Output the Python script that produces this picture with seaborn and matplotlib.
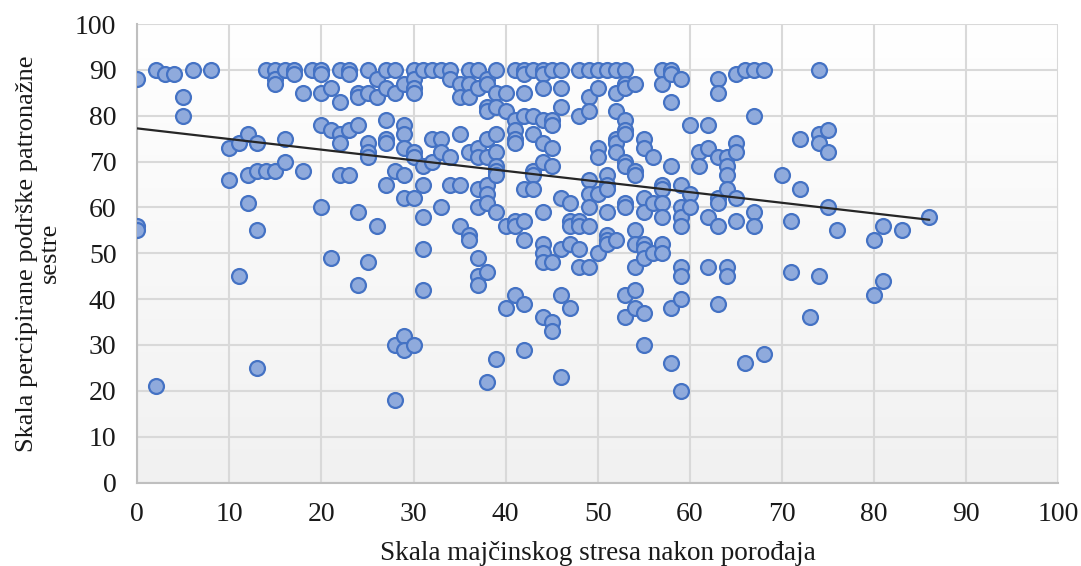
import numpy as np
import pandas as pd
import matplotlib
matplotlib.use("Agg")
import matplotlib.pyplot as plt
import seaborn as sns
from matplotlib.colors import LinearSegmentedColormap

# ---- data: x value -> list of y values ----
stress_to_support = {
    0: [88, 56, 55],
    2: [90, 21],
    3: [89],
    4: [89],
    5: [84, 80],
    6: [90],
    8: [90],
    10: [73, 66],
    11: [74, 45],
    12: [76, 67, 61],
    13: [74, 68, 55, 25],
    14: [90, 68],
    15: [90, 88, 87, 68],
    16: [90, 75, 70],
    17: [90, 89],
    18: [85, 68],
    19: [90],
    20: [90, 89, 85, 78, 60],
    21: [86, 77, 49],
    22: [90, 83, 76, 74, 67],
    23: [90, 89, 77, 67],
    24: [85, 84, 78, 59, 43],
    25: [90, 85, 74, 72, 71, 48],
    26: [88, 84, 56],
    27: [90, 86, 79, 75, 74, 65],
    28: [90, 85, 68, 30, 18],
    29: [87, 78, 76, 73, 67, 62, 32, 29],
    30: [90, 88, 86, 85, 72, 71, 62, 30],
    31: [90, 69, 65, 58, 51, 42],
    32: [90, 75, 70],
    33: [90, 75, 72, 60],
    34: [90, 88, 71, 65],
    35: [87, 84, 76, 65, 56],
    36: [90, 87, 84, 72, 54, 53],
    37: [90, 86, 73, 71, 64, 60, 49, 45, 43],
    38: [88, 87, 82, 81, 75, 71, 65, 63, 61, 46, 22],
    39: [90, 85, 82, 76, 72, 69, 68, 67, 59, 27],
    40: [85, 81, 56, 38],
    41: [90, 79, 77, 75, 74, 57, 56, 41],
    42: [90, 89, 85, 80, 64, 57, 53, 39, 29],
    43: [90, 80, 76, 68, 67, 64],
    44: [90, 89, 86, 79, 74, 70, 59, 52, 50, 48, 36],
    45: [90, 79, 78, 73, 69, 48, 35, 33],
    46: [90, 86, 82, 62, 51, 41, 23],
    47: [61, 57, 56, 52, 38],
    48: [90, 80, 57, 56, 51, 47],
    49: [90, 84, 81, 66, 63, 60, 56, 47],
    50: [90, 86, 73, 71, 63, 50],
    51: [90, 67, 65, 64, 59, 54, 53, 52],
    52: [90, 85, 81, 75, 74, 72, 53],
    53: [90, 87, 86, 79, 77, 76, 70, 69, 61, 60, 41, 36],
    54: [87, 68, 67, 55, 52, 47, 42, 38],
    55: [75, 73, 62, 59, 52, 51, 49, 37, 30],
    56: [71, 61, 50],
    57: [90, 87, 65, 64, 61, 58, 52, 50],
    58: [90, 89, 83, 69, 38, 26],
    59: [88, 65, 60, 58, 56, 47, 45, 40, 20],
    60: [78, 63, 60],
    61: [72, 69],
    62: [78, 73, 58, 47],
    63: [88, 85, 71, 62, 61, 56, 39],
    64: [71, 69, 67, 64, 47, 45],
    65: [89, 74, 72, 62, 57],
    66: [90, 26],
    67: [90, 80, 59, 56],
    68: [90, 28],
    70: [67],
    71: [57, 46],
    72: [75, 64],
    73: [36],
    74: [90, 76, 74, 45],
    75: [77, 72, 60],
    76: [55],
    80: [53, 41],
    81: [56, 44],
    83: [55],
    86: [58],
}

stress = [x for x, ys in stress_to_support.items() for _ in ys]
support = [y for ys in stress_to_support.values() for y in ys]

x_ticks = list(range(0, 101, 10))
y_ticks = list(range(0, 101, 10))
x_label = "Skala majčinskog stresa nakon porođaja"
y_label = "Skala percipirane podrške patronažne\nsestre"

df = pd.DataFrame({"stress": stress, "support": support})

sns.set_theme(style="white")
plt.rcParams["font.family"] = ["Liberation Serif", "DejaVu Serif"]

fig = plt.figure(figsize=(10.81, 5.66), dpi=100)
ax = fig.add_axes([0.127, 0.1475, 0.852, 0.81])

# gradient plot-area background (white at top, light grey at bottom)
grad = np.linspace(0, 1, 256).reshape(-1, 1)
cmap = LinearSegmentedColormap.from_list("bg", ["#F1F1F1", "#FFFFFF"])
ax.imshow(grad, extent=[0, 100, 0, 100], aspect="auto", cmap=cmap,
          zorder=0, origin="lower")

sns.scatterplot(data=df, x="stress", y="support", ax=ax, s=115,
                color="#8FAADC", edgecolor="#4472C4", linewidth=1.6,
                alpha=1, zorder=3, legend=False)
sns.regplot(data=df, x="stress", y="support", ax=ax, scatter=False,
            ci=None, truncate=True,
            line_kws={"color": "#262626", "linewidth": 1.6, "zorder": 4})

ax.set_xlim(0, 100)
ax.set_ylim(0, 100)
ax.set_xticks(x_ticks)
ax.set_yticks(y_ticks)
ax.set_xticklabels([str(t) for t in x_ticks], fontsize=20, color="#1a1a1a")
ax.set_yticklabels([str(t) for t in y_ticks], fontsize=20, color="#1a1a1a")
ax.tick_params(axis="x", length=0, pad=14)
ax.tick_params(axis="y", length=0, pad=15)

ax.grid(True, color="#D9D9D9", linewidth=1.5, zorder=1)
ax.set_axisbelow(True)
for side in ["top", "right"]:
    ax.spines[side].set_visible(False)
for side in ["left", "bottom"]:
    ax.spines[side].set_color("#BFBFBF")
    ax.spines[side].set_linewidth(1.5)

ax.set_xlabel(x_label, fontsize=19.5, color="#1a1a1a", labelpad=10)
ax.set_ylabel(y_label, fontsize=19, color="#1a1a1a", labelpad=10,
              linespacing=1.05)

fig.savefig("out.png", dpi=100)
